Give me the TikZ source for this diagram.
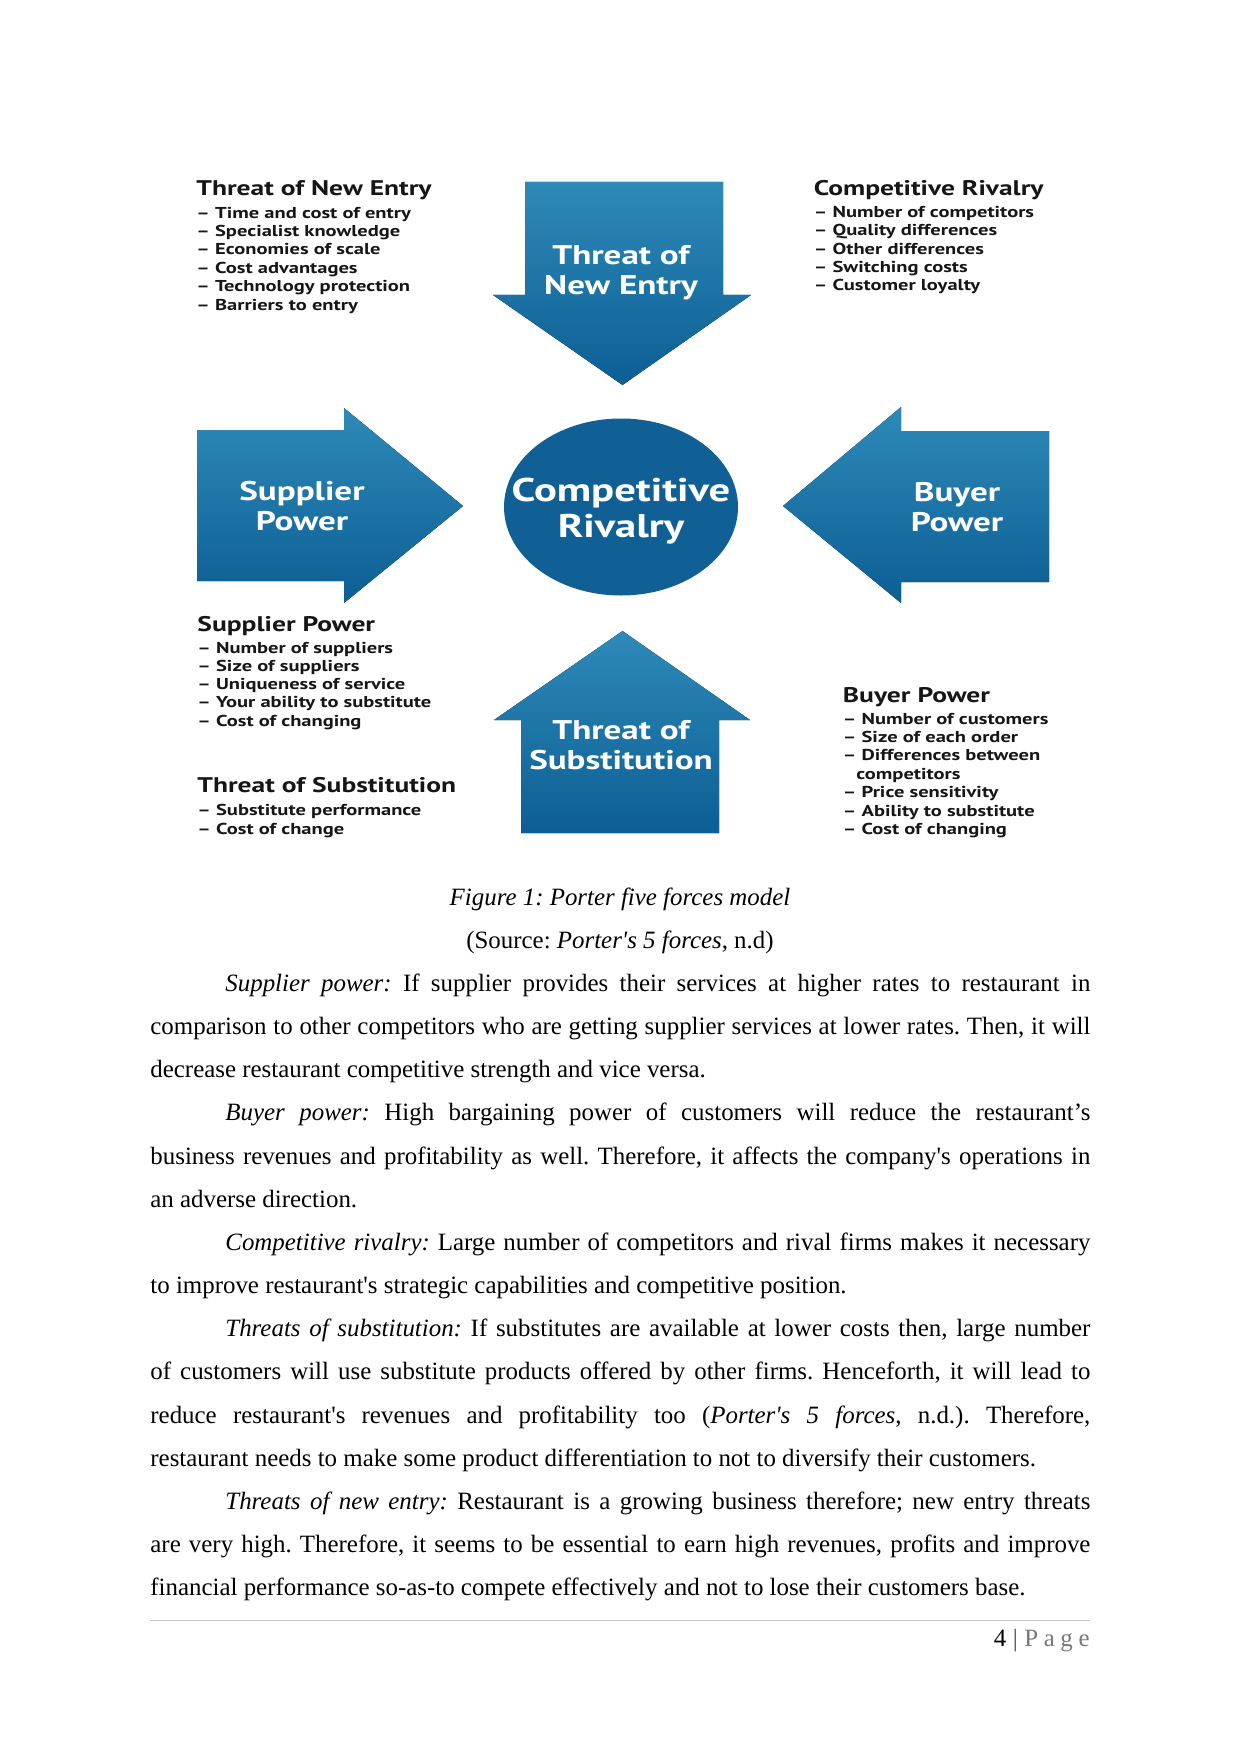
\documentclass[tikz,border=0pt]{standalone}
\usepackage{fontspec}
\setmainfont{Liberation Serif}[Ligatures=TeXOff]
\newfontfamily\dfont{PT Sans}[FakeStretch=1.3, Ligatures=TeXOff]
\usetikzlibrary{shapes.geometric}
\newlength\px
\setlength\px{0.4818pt}
\definecolor{blueTop}{RGB}{46,138,184}
\definecolor{blueBot}{RGB}{12,94,148}
\definecolor{blueCirc}{RGB}{16,96,150}
\definecolor{listInk}{RGB}{22,22,22}
\definecolor{ruleGray}{RGB}{200,200,200}
\definecolor{pageGray}{RGB}{120,120,120}
\begin{document}
\frenchspacing
\begin{tikzpicture}[x=0.4818pt, y=-0.4818pt,
  shapefill/.style={top color=blueTop, bottom color=blueBot, draw=none},
  shapelabel/.style={text=white, font=\dfont\bfseries\fontsize{13}{14.5}\selectfont, align=center, inner sep=0},
  circlabel/.style={text=white, font=\dfont\bfseries\fontsize{15.8}{17.2}\selectfont, align=center, inner sep=0},
  listtitle/.style={anchor=base west, inner sep=0, text=listInk, font=\dfont\bfseries\fontsize{10.2}{12}\selectfont},
  listitem/.style={anchor=base west, inner sep=0, text=listInk, font=\dfont\bfseries\fontsize{7.6}{9}\selectfont},
  bodyline/.style={anchor=base west, inner sep=0, font=\frenchspacing\fontsize{12}{14}\selectfont},
  captionline/.style={anchor=base, inner sep=0, font=\frenchspacing\fontsize{12}{14}\selectfont},
]
\fill[white] (0,0) rectangle (1241,1754);
\useasboundingbox (0,0) rectangle (1241,1754);

% ---------- shapes ----------
% Threat of New Entry (down arrow)
\fill[shapefill] (525,182) -- (723,182) -- (723,295) -- (751,295) -- (622.5,385) -- (493,295) -- (525,295) -- cycle;
\node[shapelabel] (tneLbl) at (621,273) {Threat of\\New Entry};
% Supplier Power (right arrow)
\fill[shapefill] (197,430) -- (344,430) -- (344,408) -- (463,506) -- (344,603) -- (344,581) -- (197,581) -- cycle;
\node[shapelabel] (spLbl) at (302,506) {Supplier\\Power};
% Buyer Power (left arrow)
\fill[shapefill] (1049,431) -- (901,431) -- (901,407) -- (783,506) -- (901,603) -- (901,582) -- (1049,582) -- cycle;
\node[shapelabel] (bpLbl) at (957,507) {Buyer\\Power};
% Threat of Substitution (up arrow)
\fill[shapefill] (622.5,631) -- (750,720) -- (719,720) -- (719,833) -- (521,833) -- (521,720) -- (494,720) -- cycle;
\node[shapelabel] (tosLbl) at (621,745) {Threat of\\Substitution};
% Competitive Rivalry (ellipse)
\node[ellipse, fill=blueCirc, draw=none, minimum width=234\px, minimum height=177\px, inner sep=0] (cr) at (621,507) {};
\node[circlabel] (crLbl) at (621,511.5) {Competitive\\Rivalry};

% ---------- lists ----------
\node[listtitle] (tneT) at (196,196) {Threat of New Entry};
\foreach \t [count=\i from 0] in {{– Time and cost of entry},{– Specialist knowledge},{– Economies of scale},{– Cost advantages},{– Technology protection},{– Barriers to entry}}
  \node[listitem] (tneI\i) at (196,{218.3+18.35*\i}) {\t};

\node[listtitle] (crT) at (813.5,196) {Competitive Rivalry};
\foreach \t [count=\i from 0] in {{– Number of competitors},{– Quality differences},{– Other differences},{– Switching costs},{– Customer loyalty}}
  \node[listitem] (crI\i) at (813.5,{217.7+18.25*\i}) {\t};

\node[listtitle] (spT) at (197,631) {Supplier Power};
\foreach \t [count=\i from 0] in {{– Number of suppliers},{– Size of suppliers},{– Uniqueness of service},{– Your ability to substitute},{– Cost of changing}}
  \node[listitem] (spI\i) at (197,{653.3+18.2*\i}) {\t};

\node[listtitle] (tosT) at (197,792.7) {Threat of Substitution};
\foreach \t [count=\i from 0] in {{– Substitute performance},{– Cost of change}}
  \node[listitem] (tosI\i) at (197,{815.7+18.3*\i}) {\t};

\node[listtitle] (bpT) at (842.5,702.7) {Buyer Power};
\node[listitem] (bpI0) at (842.5,724) {– Number of customers};
\node[listitem] (bpI1) at (842.5,742.4) {– Size of each order};
\node[listitem] (bpI2) at (842.5,760.8) {– Differences between};
\node[listitem] (bpI3) at (856,779.2) {competitors};
\node[listitem] (bpI4) at (842.5,797.6) {– Price sensitivity};
\node[listitem] (bpI5) at (842.5,816) {– Ability to substitute};
\node[listitem] (bpI6) at (842.5,834.4) {– Cost of changing};

% ---------- caption ----------
\node[captionline] (cap1) at (620,905.2) {\textit{Figure 1: Porter five forces model}};
\node[captionline] (cap2) at (620,948.4) {(Source: \textit{Porter's 5 forces}, n.d)};

% ---------- body text ----------
\node[bodyline] (l1) at (225,991.5) {\makebox[865\px][s]{\textit{Supplier power:} If supplier provides their services at higher rates to restaurant in}};
\node[bodyline] (l2) at (150,1034.65) {\makebox[940\px][s]{comparison to other competitors who are getting supplier services at lower rates. Then, it will}};
\node[bodyline] (l3) at (150,1077.8) {decrease restaurant competitive strength and vice versa.};
\node[bodyline] (l4) at (225,1120.95) {\makebox[865\px][s]{\textit{Buyer power:} High bargaining power of customers will reduce the restaurant’s}};
\node[bodyline] (l5) at (150,1164.1) {\makebox[940\px][s]{business revenues and profitability as well. Therefore, it affects the company's operations in}};
\node[bodyline] (l6) at (150,1207.25) {an adverse direction.};
\node[bodyline] (l7) at (225,1250.4) {\makebox[865\px][s]{\textit{Competitive rivalry:} Large number of competitors and rival firms makes it necessary}};
\node[bodyline] (l8) at (150,1293.55) {to improve restaurant's strategic capabilities and competitive position.};
\node[bodyline] (l9) at (225,1336.7) {\makebox[865\px][s]{\textit{Threats of substitution:} If substitutes are available at lower costs then, large number}};
\node[bodyline] (l10) at (150,1379.85) {\makebox[940\px][s]{of customers will use substitute products offered by other firms. Henceforth, it will lead to}};
\node[bodyline] (l11) at (150,1423) {\makebox[940\px][s]{reduce restaurant's revenues and profitability too (\textit{Porter's 5 forces}, n.d.). Therefore,}};
\node[bodyline] (l12) at (150,1466.15) {restaurant needs to make some product differentiation to not to diversify their customers.};
\node[bodyline] (l13) at (225,1509.3) {\makebox[865\px][s]{\textit{Threats of new entry:} Restaurant is a growing business therefore; new entry threats}};
\node[bodyline] (l14) at (150,1552.45) {\makebox[940\px][s]{are very high. Therefore, it seems to be essential to earn high revenues, profits and improve}};
\node[bodyline] (l15) at (150,1595.6) {financial performance so-as-to compete effectively and not to lose their customers base.};

% ---------- footer ----------
\coordinate (ruleL) at (150,1620.7);
\coordinate (ruleR) at (1090,1620.7);
\draw[ruleGray, line width=1.2\px] (ruleL) -- (ruleR);
\node[bodyline] (pgNum) at (993.5,1646) {4};
\node[bodyline, text=black!70] (pgBar) at (1012.5,1646) {|};
\node[anchor=base east, inner sep=0, text=pageGray, font=\fontsize{12}{14}\selectfont] (pgWord) at (1090,1646) {P\hspace{2.7pt}a\hspace{2.7pt}g\hspace{2.7pt}e};
\end{tikzpicture}
\end{document}
